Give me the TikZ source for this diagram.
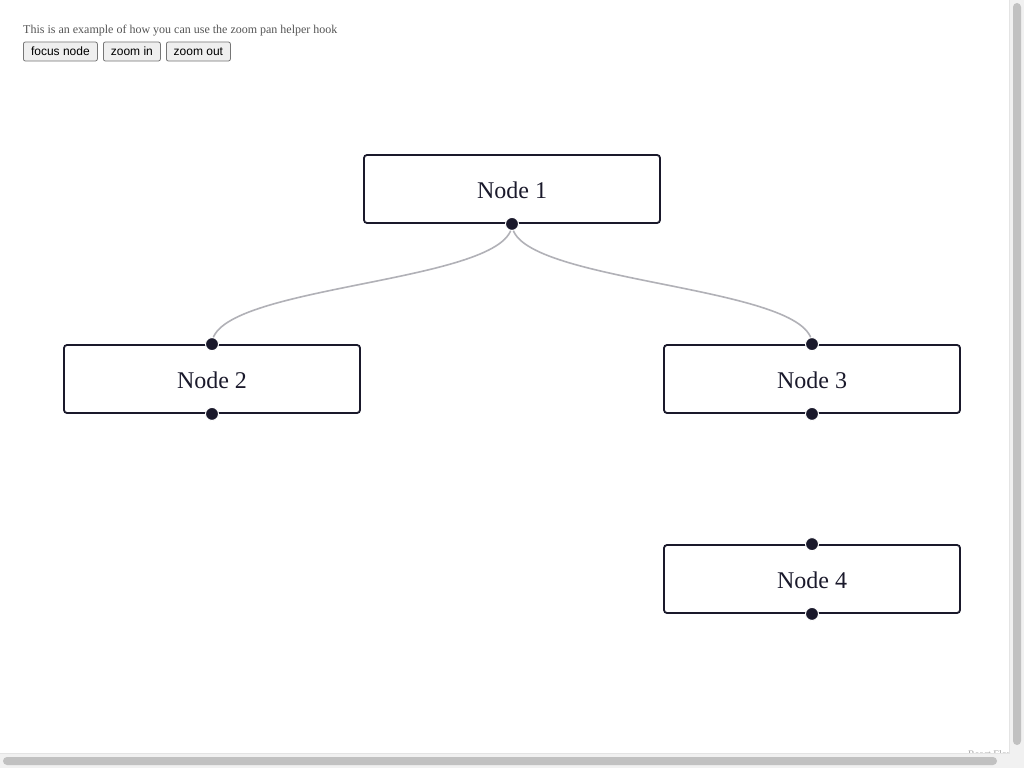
\documentclass[tikz,border=0pt]{standalone}
\usepackage{fontspec}
\setmainfont{Liberation Serif}
\newfontfamily\btnfont{Liberation Sans}
\definecolor{nodeink}{HTML}{1A192B}
\definecolor{edgeink}{HTML}{B1B1B7}
\definecolor{btnbg}{HTML}{EFEFEF}
\definecolor{btnline}{HTML}{767676}
\definecolor{introink}{HTML}{555555}
\definecolor{trackbg}{HTML}{F1F1F1}
\definecolor{trackline}{HTML}{E4E4E4}
\definecolor{thumbbg}{HTML}{C1C1C1}
\tikzset{
  flownode/.style={draw=nodeink, line width=1.8pt, rounded corners=3pt, fill=white,
    minimum width=296pt, minimum height=68pt, inner sep=0pt,
    font=\fontsize{24}{28}\selectfont, text=nodeink},
  nodelabel/.style={inner sep=0pt, font=\fontsize{24}{28}\selectfont, text=nodeink},
  handle/.style={circle, fill=nodeink, draw=white, line width=1pt, minimum size=13pt, inner sep=0pt},
  edge/.style={draw=edgeink, line width=1.6pt},
  btn/.style={draw=btnline, fill=btnbg, rounded corners=2pt, line width=0.8pt,
    font=\btnfont\fontsize{12}{14}\selectfont, text=black, inner sep=0pt,
    minimum height=19pt, anchor=west},
}
\begin{document}
\begin{tikzpicture}[x=1pt,y=-1pt]
\useasboundingbox[fill=white] (0,0) rectangle (1024,768);
% intro text and buttons
\node[anchor=west, inner sep=0pt, text=introink, font=\fontsize{12}{14}\selectfont] (intro) at (23,31) {This is an example of how you can use the zoom pan helper hook};
\node[btn, minimum width=74pt] (bfocus) at (23,51.5) {focus node};
\node[btn, minimum width=57pt] (bin) at (103,51.5) {zoom in};
\node[btn, minimum width=64pt] (bout) at (166,51.5) {zoom out};
% flow nodes
\node[flownode] (n1) at (512,189) {};
\node[flownode] (n2) at (212,379) {};
\node[flownode] (n3) at (812,379) {};
\node[flownode] (n4) at (812,579) {};
\node[nodelabel] (l1) at (512,190.5) {Node 1};
\node[nodelabel] (l2) at (212,380.5) {Node 2};
\node[nodelabel] (l3) at (812,380.5) {Node 3};
\node[nodelabel] (l4) at (812,580.5) {Node 4};
% handle positions
\coordinate (h1b) at (n1.south);
\coordinate (h2t) at (n2.north);
\coordinate (h3t) at (n3.north);
% edges
\draw[edge] (h1b) .. controls +(0,60) and +(0,-60) .. (h2t);
\draw[edge] (h1b) .. controls +(0,60) and +(0,-60) .. (h3t);
% handles
\node[handle] (k1b) at (n1.south) {};
\node[handle] (k2t) at (n2.north) {};
\node[handle] (k2b) at (n2.south) {};
\node[handle] (k3t) at (n3.north) {};
\node[handle] (k3b) at (n3.south) {};
\node[handle] (k4t) at (n4.north) {};
\node[handle] (k4b) at (n4.south) {};
% attribution (partly hidden by scrollbar)
\node[anchor=base west, inner sep=0pt, text=gray!70, font=\fontsize{10}{12}\selectfont] (attr) at (968,757) {React Flow};
% scrollbars
\fill[trackbg] (1009,0) rectangle (1024,768);
\draw[trackline, line width=0.8pt] (1009.5,0) -- (1009.5,753);
\fill[trackbg] (0,753) rectangle (1024,768);
\draw[trackline, line width=0.8pt] (0,753.5) -- (1009.5,753.5);
\fill[thumbbg, rounded corners=4pt] (1013,3) rectangle (1021,745);
\fill[thumbbg, rounded corners=4pt] (3,757) rectangle (997,765);
\end{tikzpicture}
\end{document}
